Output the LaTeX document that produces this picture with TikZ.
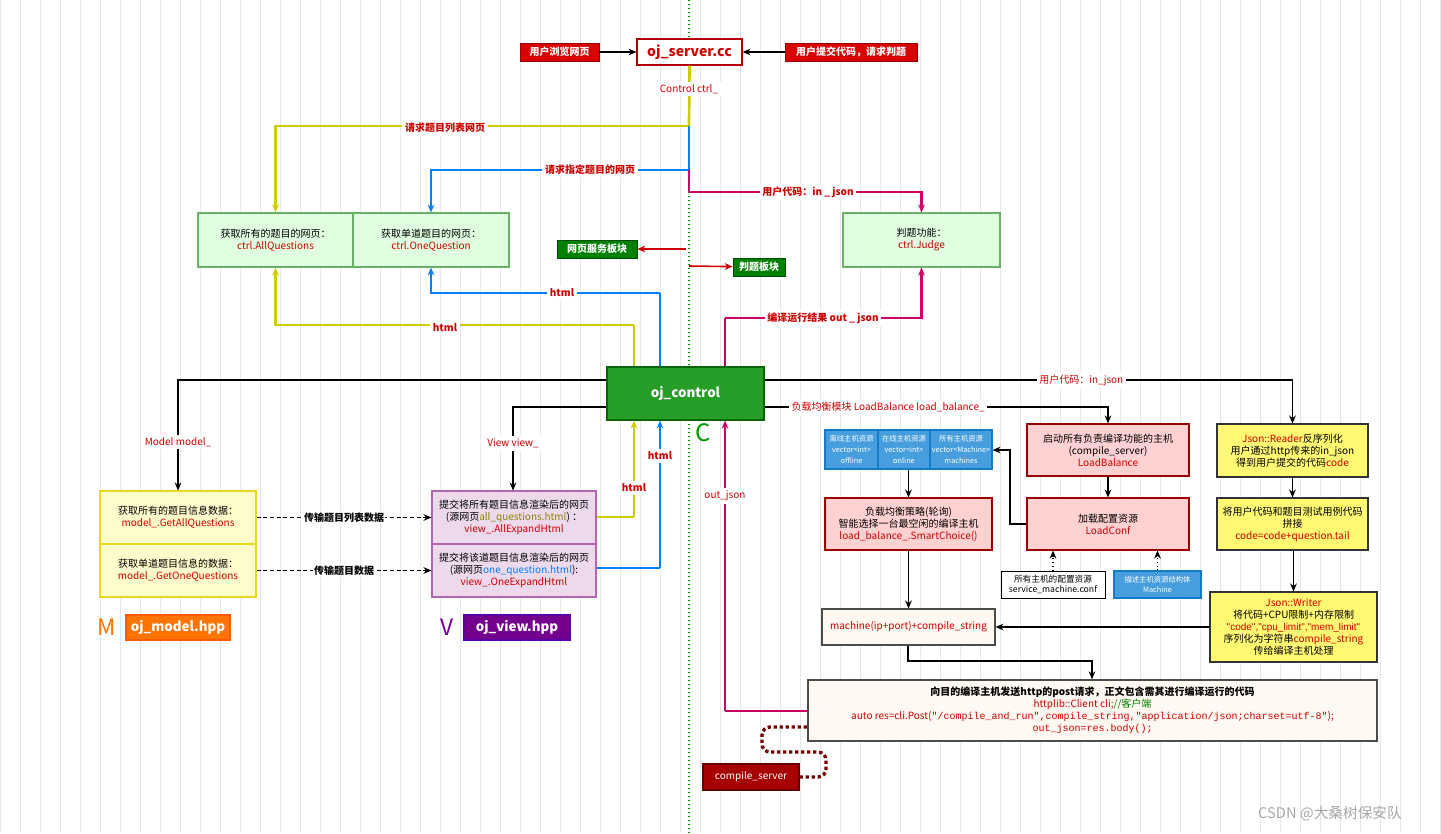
\documentclass[tikz,border=0pt]{standalone}
\usepackage{fontspec}
\setmainfont{Noto Sans CJK SC}
\newfontfamily\mono{Liberation Mono}
\newfontfamily\lsans{Liberation Sans}
\usetikzlibrary{arrows.meta}
\definecolor{tred}{HTML}{CC0000}
\definecolor{yel}{HTML}{CCCC00}
\definecolor{blu}{HTML}{007FFF}
\definecolor{mag}{HTML}{CC0066}
\newcommand\bx[7]{\node[#6, minimum width={(#4-#2)*0.75pt}, minimum height={(#5-#3)*0.75pt}] (#1) at ({(#2+#4)/2},{(#3+#5)/2}) {#7};}
\newcommand\rd[1]{\textcolor{tred}{#1}}
\begin{document}
\begin{tikzpicture}[x=0.75pt,y=-0.75pt,
  every node/.style={font=\fontsize{7.5}{9}\selectfont, inner sep=1pt, align=center},
  box/.style={draw, line width=0.8pt},
  gbox/.style={box, fill=green!12!white, draw=green!50!black!60},
  mbox/.style={box, fill=yellow!20!white, draw=yellow!70!brown},
  vbox/.style={box, fill=violet!15!white, draw=violet!60},
  pbox/.style={box, fill=red!18!white, draw=red!60!black},
  ybox/.style={box, fill=yellow!55!white, draw=black!80},
  sbox/.style={box, fill=cyan!70!blue!75, draw=cyan!60!blue, text=white, font=\fontsize{5.5}{8}\selectfont},
  cbox/.style={box, fill=orange!5!white, draw=black!70},
  rtag/.style={fill=red!85!black, draw=red!60!black, text=white, font=\fontsize{7.5}{9}\selectfont\bfseries},
  gtag/.style={fill=green!50!black, draw=green!30!black, text=white, font=\fontsize{7.5}{9}\selectfont\bfseries\itshape},
  lab/.style={fill=white, text=tred, font=\fontsize{7.5}{9}\selectfont\bfseries, inner sep=2pt},
  ar/.style={-{Stealth[length=6pt,width=5pt]}},
  blk/.style={ar, black, line width=0.8pt},
  yl/.style={ar, yel, line width=2pt},
  bl/.style={ar, blu, line width=2pt},
  mg/.style={ar, mag, line width=2pt},
]
\useasboundingbox (0,0) rectangle (1441,833);
\draw[step=20, gray!18, line width=0.4pt] (0,0) grid (1441,833);
\draw[green!60!black, dotted, line width=1pt] (689,0) -- (689,833);

% top
\bx{srv}{637}{39}{742}{65}{box, draw=red!70!black, fill=white, text=tred, font=\fontsize{10.5}{12}\selectfont\bfseries}{oj\_server.cc}
\bx{brw}{520}{43}{599}{61}{rtag}{用户浏览网页}
\bx{sub}{785}{43}{917}{61}{rtag}{用户提交代码，请求判题}
\draw[blk] (brw) -- (srv);
\draw[blk] (sub) -- (srv);

\bx{q1}{198}{213}{353}{267}{gbox}{获取所有的题目的网页：\\\rd{ctrl.AllQuestions}}
\bx{q2}{353}{213}{509}{267}{gbox}{获取单道题目的网页：\\\rd{ctrl.OneQuestion}}
\bx{jd}{843}{213}{1000}{267}{gbox}{判题功能：\\\rd{ctrl.Judge}}

\coordinate (y0) at (689,126);
\coordinate (b0) at (689,170);
\coordinate (m0) at (689,192);
\draw[yel, line width=2pt] (srv.south) -- (y0);
\draw[yl] (y0) -| (q1.north);
\draw[blu, line width=2pt] (y0) -- (b0);
\draw[bl] (b0) -| (q2.north);
\draw[mag, line width=2pt] (b0) -- (m0);
\draw[mg] (m0) -| (jd.north);
\node[lab] at (689,89) {\mdseries Control ctrl\_};
\node[lab] at (445,128) {请求题目列表网页};
\node[lab] at (590,170) {请求指定题目的网页};
\node[lab] at (808,192) {用户代码：in \_ json};

\bx{web}{557}{240}{637}{258}{gtag}{网页服务板块}
\bx{jdt}{733}{258}{785}{276}{gtag}{判题板块}
\coordinate (w0) at (686,249);
\coordinate (j0) at (689,266);
\draw[ar, red!80!black, line width=1.2pt] (w0) -- (web);
\draw[ar, red!80!black, line width=1.2pt] (j0) -- (jdt);

% control
\bx{ctl}{607}{367}{764}{420}{box, fill=green!55!black!85, draw=green!40!black, text=white, font=\fontsize{10}{12}\selectfont\bfseries}{oj\_control}
\node[text=green!60!black, font=\fontsize{18}{20}\selectfont] at (703,433) {C};

\coordinate (cy) at (634,325);
\coordinate (cb) at (660,293);
\coordinate (cm) at (725,318);
\draw[yel, line width=2pt] (ctl.north -| cy) -- (cy);
\draw[yl] (cy) -| (q1.south);
\draw[blu, line width=2pt] (ctl.north -| cb) -- (cb);
\draw[bl] (cb) -| (q2.south);
\draw[mag, line width=2pt] (ctl.north -| cm) -- (cm);
\draw[mg] (cm) -| (jd.south);
\node[lab] at (445,328) {html};
\node[lab] at (562,293) {html};
\node[lab] at (823,318) {编译运行结果 out \_ json};

% model / view
\bx{m1}{100}{491}{256}{544}{mbox}{获取所有的题目信息数据：\\\rd{model\_.GetAllQuestions}}
\bx{m2}{100}{544}{256}{597}{mbox}{获取单道题目信息的数据：\\\rd{model\_.GetOneQuestions}}
\bx{v1}{432}{491}{596}{544}{vbox}{提交将所有题目信息渲染后的网页\\(源网页\textcolor{olive}{all\_questions.html})  ：\\\rd{view\_.AllExpandHtml}}
\bx{v2}{432}{544}{596}{597}{vbox}{提交将该道题目信息渲染后的网页\\(源网页\textcolor{blu}{one\_question.html}):\\\rd{view\_.OneExpandHtml}}
\draw[blk, densely dashed, line width=0.9pt] (m1) -- node[fill=white, text=black, font=\fontsize{7.5}{9}\selectfont\bfseries]{传输题目列表数据} (v1);
\draw[blk, densely dashed, line width=0.9pt] (m2) -- node[fill=white, text=black, font=\fontsize{7.5}{9}\selectfont\bfseries]{传输题目数据} (v2);

\coordinate (cl1) at (178,380);
\coordinate (cl2) at (513,407);
\draw[blk] (ctl.west |- cl1) -| node[lab, pos=0.78]{\mdseries Model model\_} (m1.north -| cl1);
\draw[blk] (ctl.west |- cl2) -| node[lab, pos=0.72]{\mdseries View view\_} (v1.north -| cl2);

\coordinate (vy) at (634,517);
\coordinate (vb) at (660,568);
\draw[yel, line width=2pt] (v1.east |- vy) -- (vy);
\draw[yl] (vy) -- node[lab, pos=0.3]{html} (ctl.south -| vy);
\draw[blu, line width=2pt] (v2.east |- vb) -- (vb);
\draw[bl] (vb) -- node[lab, pos=0.76]{html} (ctl.south -| vb);

\node[text=orange!90!red, font=\fontsize{17}{20}\selectfont] at (107,627) {M};
\bx{mh}{126}{615}{230}{640}{box, fill=orange!90!red, draw=orange!70!red, text=white, font=\fontsize{10}{12}\selectfont\bfseries}{oj\_model.hpp}
\node[text=violet!90!blue, font=\fontsize{17}{20}\selectfont] at (447,627) {V};
\bx{vh}{464}{615}{570}{640}{box, fill=violet!90!blue, draw=violet!70!blue, text=white, font=\fontsize{10}{12}\selectfont\bfseries}{oj\_view.hpp}

% right side
\bx{off}{825}{430}{878}{469}{sbox}{离线主机资源\\vector<int>\\offline}
\bx{on}{878}{430}{930}{469}{sbox}{在线主机资源\\vector<int>\\online}
\bx{all}{930}{430}{992}{469}{sbox}{所有主机资源\\vector<Machine>\\machines}
\bx{lb}{1027}{424}{1189}{476}{pbox}{启动所有负责编译功能的主机\\(compile\_server)\\\rd{LoadBalance}}
\bx{lc}{1027}{498}{1189}{550}{pbox}{加载配置资源\\\rd{LoadConf}}
\bx{sc}{825}{498}{992}{550}{pbox}{负载均衡策略(轮询)\\智能选择一台最空闲的编译主机\\\rd{load\_balance\_.SmartChoice()}}
\bx{cf}{1001}{571}{1105}{598}{box, fill=white, draw=black, line width=0.6pt, font=\fontsize{6.5}{8}\selectfont}{所有主机的配置资源\\service\_machine.conf}
\bx{mc}{1114}{571}{1201}{598}{sbox}{描述主机资源结构体\\Machine}
\bx{mp}{822}{609}{995}{645}{cbox}{\rd{machine(ip+port)+compile\_string}}
\bx{jr}{1217}{424}{1368}{477}{ybox}{\rd{Json::Reader}反序列化\\用户通过http传来的in\_json\\得到用户提交的代码\rd{code}}
\bx{cc}{1217}{498}{1368}{550}{ybox}{将用户代码和题目测试用例代码\\拼接\\\rd{code=code+question.tail}}
\bx{jw}{1210}{592}{1377}{662}{ybox}{\rd{Json::Writer}\\将代码+CPU限制+内存限制\\\rd{\lsans "code","cpu\_limit","mem\_limit"}\\序列化为字符串\rd{compile\_string}\\传给编译主机处理}
\bx{post}{808}{680}{1377}{741}{cbox, line width=1pt}{\textbf{向目的编译主机发送http的post请求，正文包含需其进行编译运行的代码}\\\rd{httplib::Client cli;}\textcolor{green!50!black}{//客户端}\\\rd{auto res=cli.Post({\mono "/compile\_and\_run",compile\_string,"application/json;charset=utf-8"});}\\\rd{\mono out\_json=res.body();}}
\bx{cs}{703}{764}{799}{790}{box, fill=red!65!black, draw=red!40!black, text=white}{compile\_server}

\coordinate (r1) at (1295,380);
\coordinate (r2) at (1108,407);
\draw[blk] (ctl.east |- r1) -| node[lab, pos=0.3]{\mdseries 用户代码：in\_json} (jr.north);
\draw[blk] (ctl.east |- r2) -| node[lab, pos=0.18]{\mdseries 负载均衡模块 LoadBalance load\_balance\_} (lb.north);
\draw[blk] (lb) -- (lc);
\coordinate (lk) at (1010,450);
\draw[blk] (lc.west) -| (lk) -- (all.east |- lk);
\draw[blk] (on.south -| sc.north) -- (sc.north);
\draw[blk, dotted] (cf.north) -- (cf.north |- lc.south);
\draw[blk, dotted] (mc.north) -- (mc.north |- lc.south);
\draw[blk] (sc.south) -- (sc.south |- mp.north);
\draw[blk] (jr) -- (cc);
\draw[blk] (cc.south -| jw.north) -- (jw.north);
\draw[blk] (jw.west) -- (mp.east |- jw.west);
\coordinate (mpd) at (908,661);
\coordinate (pd) at (1092,661);
\draw[blk] (mp.south -| mpd) -- (mpd) -- (pd) -- (post.north -| pd);
\coordinate (om) at (725,711);
\draw[mag, line width=2pt] (post.west |- om) -- (om);
\draw[mg] (om) -- node[lab, pos=0.74]{\mdseries out\_json} (ctl.south -| om);
\coordinate (d1) at (826,777);
\coordinate (d2) at (826,752);
\coordinate (d3) at (762,752);
\coordinate (d4) at (762,727);
\draw[red!45!black, line width=2.5pt, dotted, rounded corners=6pt] (cs.east) -- (d1) -- (d2) -- (d3) -- (d4) -- (post.west |- d4);

\node[text=gray!70, font=\fontsize{11}{13}\selectfont] at (1330,814) {CSDN @大桑树保安队};
\end{tikzpicture}
\end{document}
